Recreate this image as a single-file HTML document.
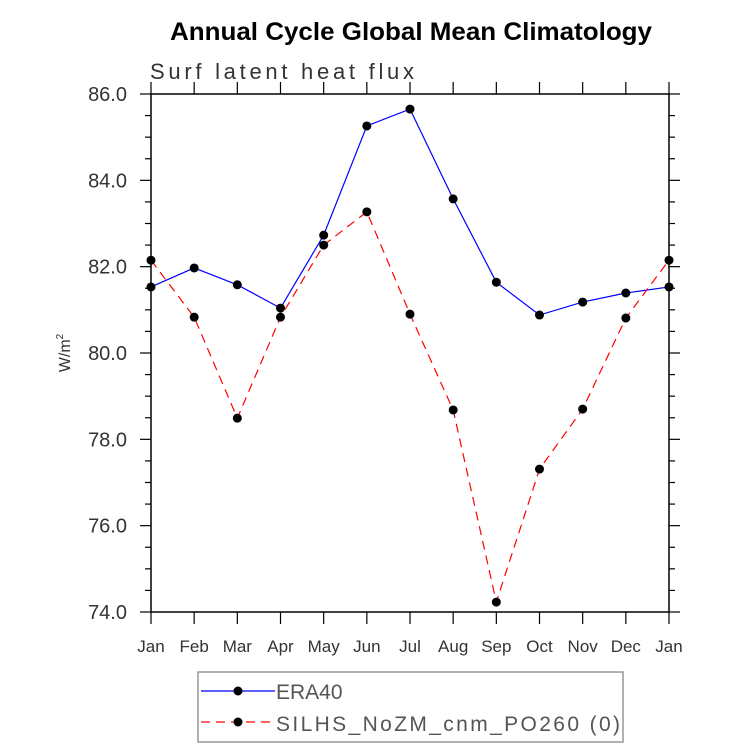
<!DOCTYPE html>
<html><head><meta charset="utf-8"><style>body{margin:0;background:#fff}svg{display:block}</style></head>
<body>
<svg id="c" width="733" height="748" xmlns="http://www.w3.org/2000/svg" font-family="'Liberation Sans', sans-serif">
<text x="411" y="40" text-anchor="middle" font-size="25" font-weight="bold" textLength="482" lengthAdjust="spacingAndGlyphs">Annual Cycle Global Mean Climatology</text>
<text x="150" y="79" font-size="22" fill="#333" textLength="264">Surf latent heat flux</text>
<text transform="translate(70,353) rotate(-90)" text-anchor="middle" font-size="16" fill="#333">W/m<tspan dy="-7" font-size="10">2</tspan></text>
<g id="axes"></g><g id="series"></g>
<g>
<rect x="198" y="672" width="425" height="70" fill="none" stroke="#999" stroke-width="1.5"/>
<line x1="201" y1="691" x2="275" y2="691" stroke="#00f" stroke-width="1.2"/>
<circle cx="238" cy="691" r="4.5"/>
<text x="276" y="699" font-size="21" fill="#555">ERA40</text>
<line x1="201" y1="722" x2="275" y2="722" stroke="#f00" stroke-width="1.2" stroke-dasharray="9,6"/>
<circle cx="238" cy="722" r="4.5"/>
<text x="276" y="731" font-size="21" fill="#555" textLength="344">SILHS_NoZM_cnm_PO260 (0)</text>
</g>
</svg>
<script>
const months=["Jan","Feb","Mar","Apr","May","Jun","Jul","Aug","Sep","Oct","Nov","Dec","Jan"];
const era40=[81.53,81.97,81.58,81.04,82.73,85.26,85.65,83.57,81.64,80.88,81.18,81.39,81.53];
const silhs=[82.15,80.83,78.49,80.83,82.50,83.27,80.90,78.68,74.23,77.31,78.70,80.81,82.15];
const yTicks=[74,76,78,80,82,84,86];
const NS="http://www.w3.org/2000/svg";
const L=151,R=669,T=94,B=612,ymin=74,ymax=86;
const xs=i=>L+i*(R-L)/12, ys=v=>B-(v-ymin)/(ymax-ymin)*(B-T);
function mk(t,a,p){const e=document.createElementNS(NS,t);for(const k in a)e.setAttribute(k,a[k]);p.appendChild(e);return e;}
const ax=document.getElementById('axes');
const fr=mk('rect',{x:L,y:T,width:R-L,height:B-T,fill:'none',stroke:'#000','stroke-width':1.5},ax);


months.forEach((m,i)=>{const x=xs(i);
 mk('line',{x1:x,y1:B,x2:x,y2:B+12,stroke:'#000','stroke-width':1.2},ax);
 mk('line',{x1:x,y1:T,x2:x,y2:T-12,stroke:'#000','stroke-width':1.2},ax);
 const t=mk('text',{x:x,y:B+40,'text-anchor':'middle','font-size':17,fill:'#333'},ax);t.textContent=m;
 
 
});
for(let v=ymin;v<=ymax+1e-9;v+=0.5){const y=ys(v);const maj=Math.abs(v/2-Math.round(v/2))<1e-6;const len=maj?11:6;
 mk('line',{x1:L-len,y1:y,x2:L,y2:y,stroke:'#000','stroke-width':1.2},ax);
 mk('line',{x1:R,y1:y,x2:R+len,y2:y,stroke:'#000','stroke-width':1.2},ax);}
yTicks.forEach(v=>{const t=mk('text',{x:127,y:ys(v)+7,'text-anchor':'end','font-size':20,fill:'#333'},ax);t.textContent=v.toFixed(1);
 
 });
const sg=document.getElementById('series');
function draw(d,col,dash,name){const pts=d.map((v,i)=>xs(i)+','+ys(v)).join(' ');
 const p=mk('polyline',{points:pts,fill:'none',stroke:col,'stroke-width':1.2},sg);if(dash)p.setAttribute('stroke-dasharray',dash);
 
 
 d.forEach((v,i)=>{const c=mk('circle',{cx:xs(i),cy:ys(v),r:4.5},sg);
 
 });}
draw(era40,'#00f',null,'era40');
draw(silhs,'#f00','9,6','silhs');
</script>
</body></html>
